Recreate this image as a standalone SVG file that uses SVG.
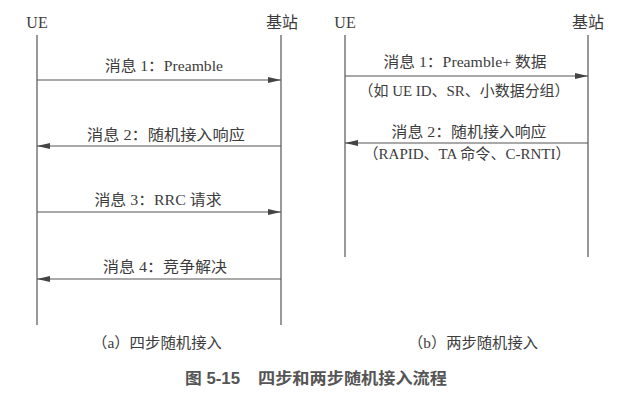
<svg xmlns="http://www.w3.org/2000/svg" width="622" height="400" viewBox="0 0 622 400">
<style>
.t{font-family:"Liberation Serif","Noto Sans CJK SC",serif;font-size:15px;fill:#3c3c3c;text-anchor:middle}
.h{font-family:"Liberation Serif","Noto Sans CJK SC",serif;font-size:16px;fill:#3c3c3c;text-anchor:middle}
.title{font-family:"Liberation Sans","Noto Sans CJK SC",sans-serif;font-size:16px;font-weight:bold;fill:#555;text-anchor:start}
.life{stroke:#555;stroke-width:1.2;fill:none}
.msg{stroke:#555;stroke-width:1.2;fill:none;marker-end:url(#ah)}
</style>
<defs>
<marker id="ah" markerWidth="13" markerHeight="6" refX="13" refY="3" orient="auto" markerUnits="userSpaceOnUse">
<path d="M0,0 L13,3 L0,6 Z" fill="#444"/>
</marker>
</defs>
<rect width="622" height="400" fill="#fff"/>
<g id="ue-a"><line class="life" x1="37" y1="35" x2="37" y2="325"/><text class="h" x="37" y="28">UE</text></g>
<g id="bs-a"><line class="life" x1="281" y1="35" x2="281" y2="325"/><text class="h" x="282" y="28">基站</text></g>
<g id="ue-b"><line class="life" x1="345" y1="35" x2="345" y2="257"/><text class="h" x="345" y="28">UE</text></g>
<g id="bs-b"><line class="life" x1="588" y1="35" x2="588" y2="257"/><text class="h" x="588" y="28">基站</text></g>
<g id="connectors">
<line class="msg" x1="37" y1="80" x2="281" y2="80"/>
<line class="msg" x1="281" y1="146" x2="37" y2="146"/>
<line class="msg" x1="37" y1="212" x2="281" y2="212"/>
<line class="msg" x1="281" y1="279" x2="37" y2="279"/>
<line class="msg" x1="345" y1="76" x2="588" y2="76"/>
<line class="msg" x1="588" y1="143" x2="345" y2="143"/>
</g>
<g id="labels">
<text class="t" x="164" y="71" textLength="118" lengthAdjust="spacingAndGlyphs">消息 1：Preamble</text>
<text class="t" x="166" y="140" textLength="158" lengthAdjust="spacingAndGlyphs">消息 2：随机接入响应</text>
<text class="t" x="158" y="205" textLength="127" lengthAdjust="spacingAndGlyphs">消息 3：RRC 请求</text>
<text class="t" x="165" y="272" textLength="124" lengthAdjust="spacingAndGlyphs">消息 4：竞争解决</text>
<text class="t" x="465" y="67" textLength="163" lengthAdjust="spacingAndGlyphs">消息 1：Preamble+ 数据</text>
<text class="t" x="464" y="96" textLength="211" lengthAdjust="spacingAndGlyphs">（如 UE ID、SR、小数据分组）</text>
<text class="t" x="469" y="137" textLength="155" lengthAdjust="spacingAndGlyphs">消息 2：随机接入响应</text>
<text class="t" x="467" y="159" textLength="207" lengthAdjust="spacingAndGlyphs">（RAPID、TA 命令、C-RNTI）</text>
<text class="t" x="157" y="348" textLength="130" lengthAdjust="spacingAndGlyphs">（a）四步随机接入</text>
<text class="t" x="473" y="348" textLength="130" lengthAdjust="spacingAndGlyphs">（b）两步随机接入</text>
</g>
<g id="title">
<text class="title" x="185" y="384" textLength="55" lengthAdjust="spacingAndGlyphs">图 5-15</text>
<text class="title" x="258" y="384" textLength="189" lengthAdjust="spacingAndGlyphs">四步和两步随机接入流程</text>
</g>
</svg>
